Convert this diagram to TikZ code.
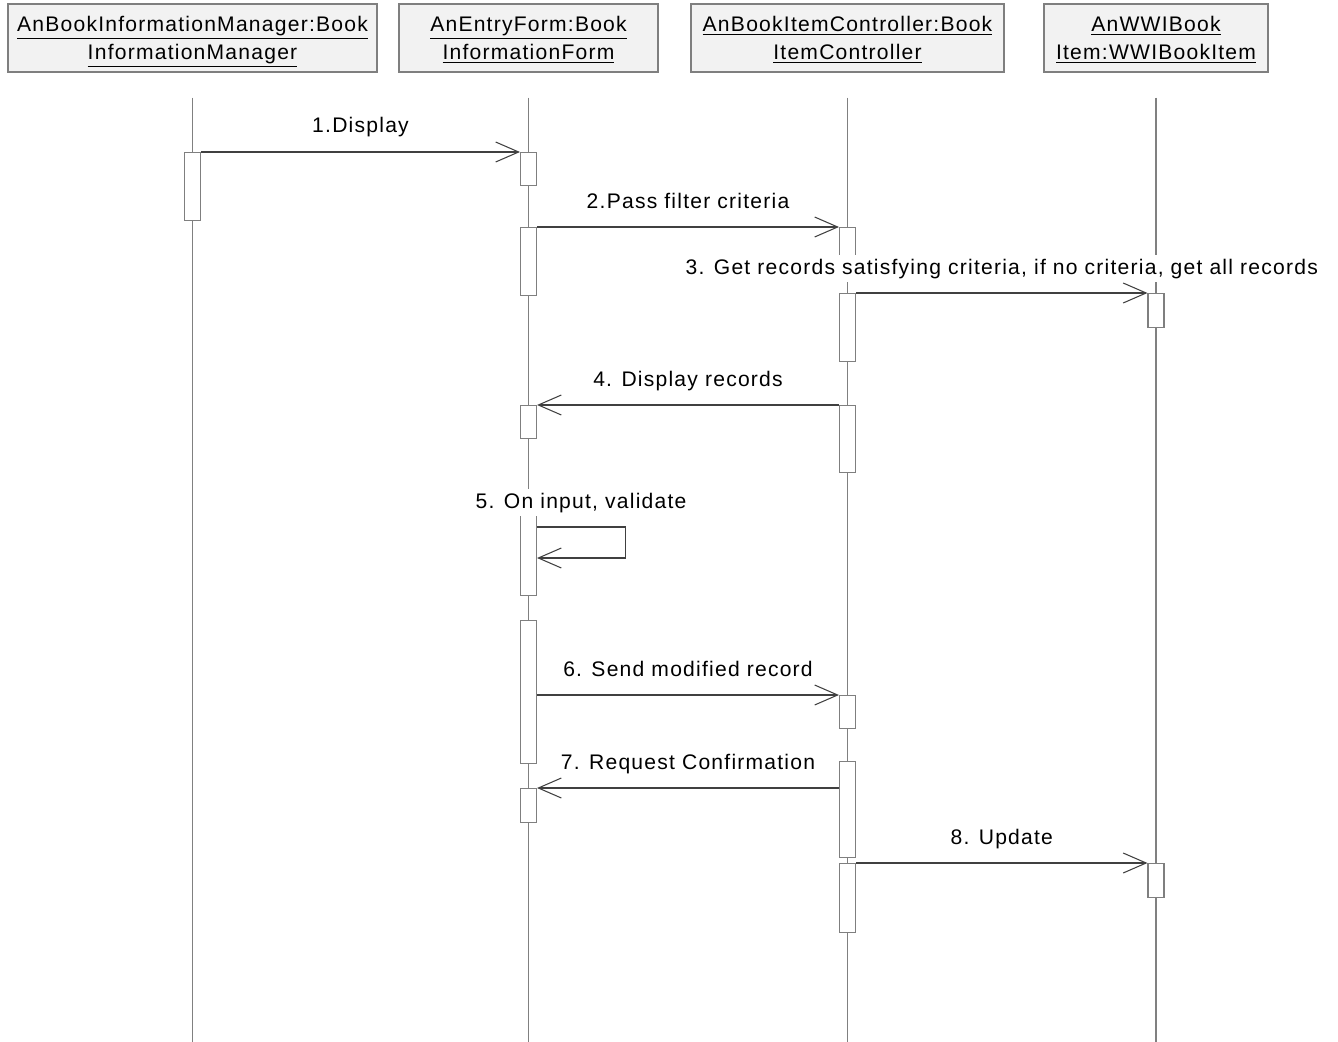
\documentclass[tikz,border=0pt]{standalone}
\usepackage{fontspec}
\setmainfont{Liberation Sans}[LetterSpace=5.8]
\usetikzlibrary{arrows.meta, positioning, calc}
\definecolor{headFill}{HTML}{F2F2F2}
\definecolor{headStroke}{HTML}{7F7F7F}
\definecolor{lifeGray}{HTML}{808080}
\definecolor{msgGray}{HTML}{404040}

\begin{document}
\begin{tikzpicture}[
    % Global Styles
    x=0.2mm, y=-0.2mm,
    font=\fontsize{12}{16.1}\selectfont,
    line width=0.6pt,
    % Object heads
    head/.style={
        rectangle,
        draw=headStroke,
        fill=headFill,
        align=center,
        minimum height=13.6mm,
        inner sep=0pt,
        text height=25pt,
        text depth=0pt
    },
    % Activation bars
    act/.style={
        rectangle,
        draw=headStroke,
        fill=white,
        minimum width=3.2mm,
        inner sep=0pt,
        anchor=north
    },
    life/.style={draw=lifeGray},
    % Message Style
    msg/.style={
        draw=msgGray,
        -{Straight Barb[length=4.6mm, width=4mm]}
    },
    lbl/.style={
        midway,
        anchor=base,
        yshift=3.8mm,
        fill=white,
        inner sep=0.8mm
    }
]
    \useasboundingbox (0,0) rectangle (1338,1042);

    % --- Objects ---
    \node[head, minimum width=73.8mm] (h1) at (192.5,38) {\underline{AnBookInformationManager:Book}\\\underline{InformationManager}};
    \node[head, minimum width=51.8mm] (h2) at (528.5,38) {\underline{AnEntryForm:Book}\\\underline{InformationForm}};
    \node[head, minimum width=62.6mm] (h3) at (847.5,38) {\underline{AnBookItemController:Book}\\\underline{ItemController}};
    \node[head, minimum width=44.8mm] (h4) at (1156,38) {\underline{AnWWIBook}\\\underline{Item:WWIBookItem}};

    % --- Lifelines ---
    \coordinate (bottom) at (0,1042);
    \foreach \h in {h1,h2,h3,h4}
        \draw[life] ([yshift=-5mm]\h.south) -- (\h.south |- bottom);

    % --- Activations ---
    \node[act, minimum height=13.6mm] (a1) at (h1 |- 0,152) {};
    \node[act, minimum height=6.6mm] (b1) at (h2 |- 0,152) {};
    \node[act, minimum height=13.6mm] (b2) at (h2 |- 0,227) {};
    \node[act, minimum height=6.6mm] (c1) at (h3 |- 0,227) {};
    \node[act, minimum height=13.6mm] (c2) at (h3 |- 0,293) {};
    \node[act, minimum height=6.8mm] (d1) at (h4 |- 0,293) {};
    \node[act, minimum height=13.4mm] (c3) at (h3 |- 0,405) {};
    \node[act, minimum height=6.6mm] (b3) at (h2 |- 0,405) {};
    \node[act, minimum height=16.4mm] (b4) at (h2 |- 0,513) {};
    \node[act, minimum height=28.6mm] (b5) at (h2 |- 0,620) {};
    \node[act, minimum height=6.6mm] (c4) at (h3 |- 0,695) {};
    \node[act, minimum height=19.2mm] (c5) at (h3 |- 0,761) {};
    \node[act, minimum height=6.8mm] (b6) at (h2 |- 0,788) {};
    \node[act, minimum height=13.8mm] (c6) at (h3 |- 0,863) {};
    \node[act, minimum height=6.8mm] (d2) at (h4 |- 0,863) {};

    % --- Messages ---
    \draw[msg] (a1.north east) -- node[lbl] (m1) {1.Display} (b1.north west);
    \draw[msg] (b2.north east) -- node[lbl] (m2) {2.Pass filter criteria} (c1.north west);
    \draw[msg] (c2.north east) -- node[lbl] (m3) {3. Get records satisfying criteria, if no criteria, get all records} (d1.north west);
    \draw[msg] (c3.north west) -- node[lbl] (m4) {4. Display records} (b3.north east);

    % self call
    \draw[msg] ($(b4.north east)+(0,14)$) -- node[lbl] (m5) {5. On input, validate} ++(88,0)
        -- ++(0,31) -- ($(b4.north east)+(0,45)$);

    \draw[msg] (b5.east |- c4.north) -- node[lbl] (m6) {6. Send modified record} (c4.north west);
    \draw[msg] (c5.west |- b6.north) -- node[lbl] (m7) {7. Request Confirmation} (b6.north east);
    \draw[msg] (c6.north east) -- node[lbl] (m8) {8. Update} (d2.north west);

\end{tikzpicture}
\end{document}
